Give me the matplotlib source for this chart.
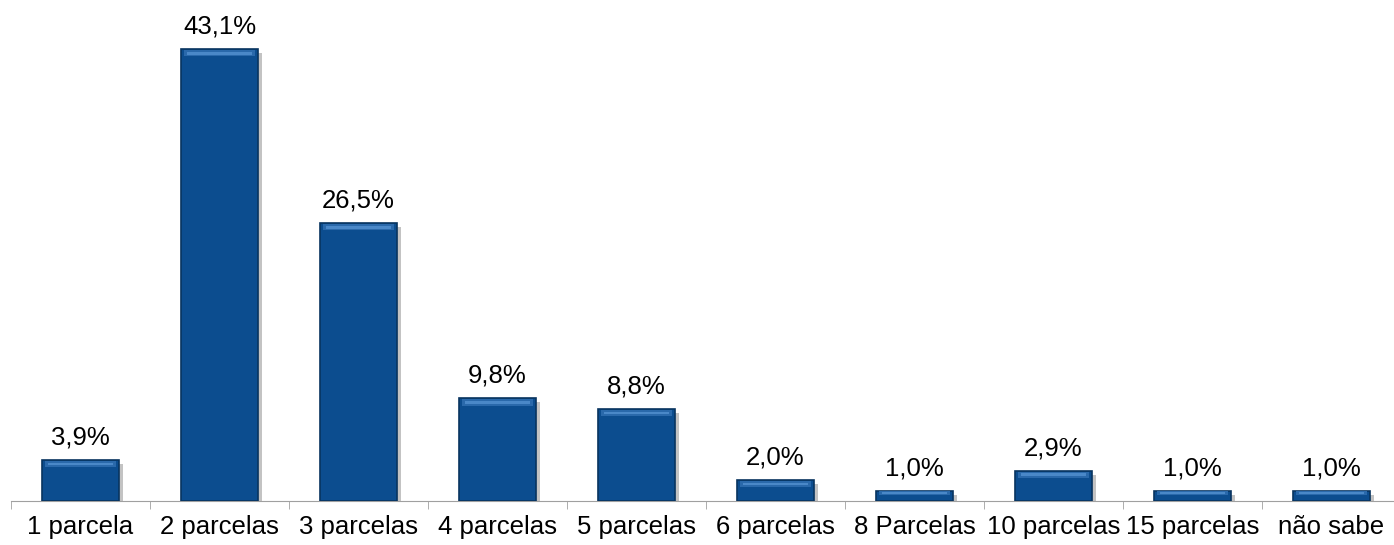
import matplotlib.pyplot as plt
import matplotlib.patheffects as pe
import numpy as np

categories = ['1 parcela', '2 parcelas', '3 parcelas', '4 parcelas', '5 parcelas',
              '6 parcelas', '8 Parcelas', '10 parcelas', '15 parcelas', 'não sabe']
values = [3.9, 43.1, 26.5, 9.8, 8.8, 2.0, 1.0, 2.9, 1.0, 1.0]
labels = ['3,9%', '43,1%', '26,5%', '9,8%', '8,8%', '2,0%', '1,0%', '2,9%', '1,0%', '1,0%']

plt.rcParams['font.family'] = ['Liberation Sans', 'DejaVu Sans']

fig = plt.figure(figsize=(13.94, 5.45), dpi=100)
ax = fig.add_axes([11 / 1394, 44 / 545, 1390 / 1394, 501 / 545])

x = np.arange(len(categories))
width = 0.55

# main bars with soft shadow
bars = ax.bar(x, values, width=width, color='#0c4d8f', edgecolor='#08345f', linewidth=1.2,
              zorder=3)
for b in bars:
    b.set_path_effects([pe.SimplePatchShadow(offset=(3, -3), shadow_rgbFace='#888888', alpha=0.5),
                        pe.Normal()])

# bevel highlight near the top of each bar
bevel = 0.6
for xi, v in zip(x, values):
    h = min(bevel, v * 0.35)
    ax.bar(xi, h, width=width * 0.92, bottom=v - h * 1.15, color='#2a69ab', linewidth=0, zorder=4)
    ax.bar(xi, h * 0.4, width=width * 0.84, bottom=v - h * 0.85, color='#4a88c8', linewidth=0, zorder=4)

for xi, v, t in zip(x, values, labels):
    ax.text(xi, v + 1.0, t, ha='center', va='bottom', fontsize=18.5, color='#000000')

ax.set_xlim(-0.5, len(categories) - 0.5)
ax.set_ylim(0, 47.8)
ax.set_yticks([])
ax.set_xticks(np.arange(len(categories) + 1) - 0.5, minor=True)
ax.set_xticks(x)
ax.set_xticklabels(categories, fontsize=18.5)
ax.tick_params(axis='x', which='major', length=0, pad=10)
ax.tick_params(axis='x', which='minor', length=6, color='#a0a0a0', direction='out')
for s in ['top', 'right', 'left']:
    ax.spines[s].set_visible(False)
ax.spines['bottom'].set_color('#a0a0a0')

fig.savefig('out.png', dpi=100)
